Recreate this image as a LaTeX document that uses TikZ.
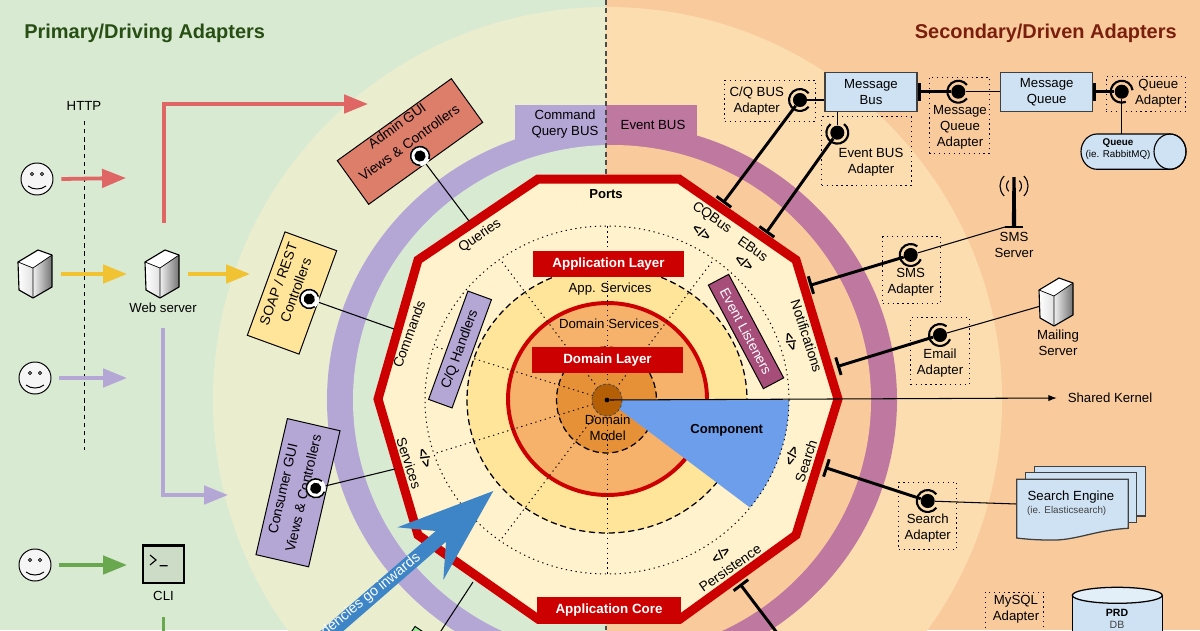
\documentclass[tikz,border=0pt]{standalone}
\usepackage{fontspec}
\setmainfont{Liberation Sans}
\usetikzlibrary{arrows.meta}
\definecolor{drivingback}{HTML}{D9EAD3}
\definecolor{drivenback}{HTML}{F9CB9C}
\definecolor{drivingzone}{HTML}{EAEDCE}
\definecolor{drivenzone}{HTML}{FCDDB0}
\definecolor{drivingtitle}{HTML}{274E13}
\definecolor{driventitle}{HTML}{7A1F0E}
\definecolor{cqring}{HTML}{B4A7D6}
\definecolor{eventring}{HTML}{BF78A0}
\definecolor{coreyellow}{HTML}{FFF2CC}
\definecolor{appyellow}{HTML}{FFE599}
\definecolor{servicesorange}{HTML}{F6B26B}
\definecolor{modelorange}{HTML}{E69138}
\definecolor{kernelbrown}{HTML}{B45F06}
\definecolor{corered}{HTML}{CC0000}
\definecolor{wedgeblue}{HTML}{6D9EEB}
\definecolor{inwardblue}{HTML}{3D85C6}
\definecolor{paleblue}{HTML}{CFE2F3}
\definecolor{adminred}{HTML}{DD7E6B}
\definecolor{listenerpurple}{HTML}{A64D79}
\definecolor{flowred}{HTML}{E06666}
\definecolor{flowyellow}{HTML}{F1C232}
\definecolor{flowgreen}{HTML}{6AA84F}
\tikzset{
    every node/.style={align=center,inner sep=0pt,font=\fontsize{9.4}{11.4}\selectfont,},
    pagetitle/.style={anchor=west,font=\fontsize{14.2}{17}\selectfont\bfseries,},
    boldtext/.style={font=\fontsize{9.3}{11.4}\selectfont\bfseries,},
    tinytext/.style={font=\fontsize{7}{9}\selectfont,},
    slanttext/.style={font=\fontsize{9.8}{12}\selectfont,},
    layerbox/.style={fill=corered,text=white,font=\fontsize{9.5}{11.4}\selectfont\bfseries,minimum height=.66cm,},
    portbox/.style={draw,line width=.7pt,},
    busbox/.style={draw=black!75,line width=.9pt,fill=paleblue,minimum width=2.3cm,minimum height=.98cm,},
    adapterbox/.style={draw,line width=.7pt,dash pattern=on .9pt off 2.6pt,},
    dottedline/.style={line width=.7pt,dash pattern=on .9pt off 2.6pt,},
    dashedcircle/.style={line width=.9pt,dash pattern=on 4.4pt off 2.6pt,},
    flowline/.style={line width=2.7pt,-{Triangle[length=17pt,width=13pt]},},
    thinline/.style={line width=.75pt,},
    busline/.style={line width=2.1pt,{Bar[width=13pt,line width=2.1pt]}-,},
    primarydisc/.style={circle,fill=black,minimum size=8pt,},
    secondarydisc/.style={circle,fill=black,minimum size=10pt,},
    facecircle/.style={circle,draw,line width=.7pt,fill=black!4,minimum size=.8cm,outer sep=6pt,},
    serverbase/.style={minimum width=.85cm,minimum height=1.2cm,outer sep=6.4pt,},
    primaryring/.pic={
        \fill[white] (0,0) circle (7.2pt);
        \draw[line width=1.1pt] (35:6.7pt) arc[start angle=35,end angle=325,radius=6.7pt];
        \fill (0,0) circle (4pt);
    },
    secondaryring/.pic={
        \draw[line width=1.5pt] (38:7.8pt) arc[start angle=38,end angle=322,radius=7.8pt];
    },
    smileface/.pic={
        \draw[line width=.5pt,fill=black!25] (-5,-5) circle (1.1pt);
        \draw[line width=.5pt,fill=black!25] (5,-5) circle (1.1pt);
        \draw[line width=.7pt] (-9,7) .. controls (-4,11) and (4,11) .. (9,7);
    },
    serverimage/.pic={
        \fill[white] (-17,-12) -- (3,-24) -- (17,-19) -- (-2,-6) -- cycle;
        \shade[left color=white,right color=black!12] (-17,-12) -- (-2,-6) -- (-2,24) -- (-16,16) -- cycle;
        \shade[left color=black!6,right color=black!55] (-2,-6) -- (17,-19) -- (17,13) -- (-2,24) -- cycle;
        \draw[line width=.8pt,line join=round] (-17,-12) -- (3,-24) -- (17,-19) -- (17,13) -- (-2,24) -- (-16,16) -- cycle;
        \draw[line width=.5pt] (-17,-12) -- (-2,-6) -- (17,-19) (-2,-6) -- (-2,24);
    },
}

\begin{document}
\begin{tikzpicture}[x=0.025cm,y=-0.025cm]
                \useasboundingbox (0,0) rectangle (1200,630);
                \clip (0,0) rectangle (1200,630);

                % left and right halves of the zones
                \begin{scope}
                    \clip (0,0) rectangle (606,630);
                    \fill[drivingback] (0,0) rectangle (606,630);
                    \fill[drivingzone] (607.5,400) circle [x radius=394.5,y radius=393];
                    \fill[cqring] (612,400) circle [x radius=285,y radius=277];
                    \fill[drivingback] (612,400) circle [x radius=259,y radius=255];
                \end{scope}
                \begin{scope}
                    \clip (606,0) rectangle (1200,630);
                    \fill[drivenback] (606,0) rectangle (1200,630);
                    \fill[drivenzone] (607.5,400) circle [x radius=394.5,y radius=393];
                    \fill[eventring] (612,400) circle [x radius=285,y radius=277];
                    \fill[drivenback] (612,400) circle [x radius=259,y radius=255];
                \end{scope}

                \node[fill=cqring,minimum width=2.275cm,minimum height=.9cm] (cqtab) at (560.5,123) {};
                \node[fill=eventring,minimum width=2.275cm,minimum height=.9cm] (eventtab) at (651.5,123) {};
                \node (cqtabtext) at (565,124) {Command\\Query BUS};
                \node (eventtabtext) at (653,125) {Event BUS};

                \coordinate (dividetop) at (606,0);
                \coordinate (dividecore) at (606,180);
                \coordinate (dividebase) at (606,618);
                \coordinate (divideend) at (606,630);
                \draw[black!70,line width=1pt,dash pattern=on 3.6pt off 2.4pt] (dividetop) -- (dividecore) (dividebase) -- (divideend);

                \node[pagetitle,text=drivingtitle] (primarytitle) at (24,33) {Primary/Driving Adapters};
                \node[pagetitle,text=driventitle,anchor=east] (secondarytitle) at (1177,33) {Secondary/Driven Adapters};

                % users and servers on the left
                \node (httptext) at (84,106) {HTTP};
                \coordinate (httptop) at (84,121);
                \coordinate (httpend) at (84,450);
                \draw[line width=.65pt,dash pattern=on 3pt off 2.8pt] (httptop) -- (httpend);

                \node[facecircle] (adminuser) at (37,179) {};
                \pic at (adminuser) {smileface};
                \node[serverbase] (hostserver) at (35,274) {};
                \pic at (hostserver) {serverimage};
                \node[facecircle] (webuser) at (35,378) {};
                \pic at (webuser) {smileface};
                \node[facecircle] (cliuser) at (35,565) {};
                \pic at (cliuser) {smileface};
                \node[serverbase] (webserver) at (162,274) {};
                \pic at (webserver) {serverimage};
                \node (webtext) at (163,308) {Web server};
                \node[draw,line width=.9pt,fill=black!6!drivingback,minimum width=1.02cm,minimum height=.92cm] (cliwindow) at (163.5,564.5) {};
                \draw[line width=2pt] (cliwindow.north west) -- (cliwindow.north east);
                \draw[line width=.8pt] (150,555) -- (156,560) -- (150,565) (159.5,565.8) -- (167.5,565.8);
                \node (clitext) at (163.5,596) {CLI};

                \coordinate (adminuserhit) at (126,178);
                \coordinate (hostserverhit) at (127,274);
                \coordinate (webuserhit) at (127,378);
                \coordinate (cliuserhit) at (127,565);
                \coordinate (soapin) at (250,274);
                \coordinate (webup) at (164,223);
                \coordinate (adminin) at (368,104);
                \coordinate (webdown) at (163,328);
                \coordinate (consumerin) at (228,495);
                \coordinate (clidown) at (163.5,617);
                \coordinate (clibelow) at (163.5,640);

                \draw[flowline,flowred] (adminuser.east) -- (adminuserhit);
                \draw[flowline,flowred] (webup) |- (adminin);
                \draw[flowline,flowyellow] (hostserver.east) -- (hostserverhit);
                \draw[flowline,flowyellow] (webserver.east) -- (soapin);
                \draw[flowline,cqring] (webuser.east) -- (webuserhit);
                \draw[flowline,cqring] (webdown) |- (consumerin);
                \draw[flowline,flowgreen] (cliuser.east) -- (cliuserhit);
                \draw[line width=2.7pt,flowgreen] (clidown) -- (clibelow);

                % application core
                \draw[fill=coreyellow,draw=corered,line width=6.4pt] (538,179) -- (679,179) -- (796,260) -- (838,399) -- (796,535) -- (680,619) -- (538,619) -- (418,535) -- (378,399) -- (418,260) -- cycle;

                \fill[appyellow] (607,400) circle [x radius=140,y radius=133];
                \draw[corered,fill=servicesorange,line width=2.8pt] (607.5,399) circle [x radius=99.5,y radius=96];
                \fill[modelorange] (606.5,400) circle [x radius=50,y radius=53];

                \foreach \spoke in {-54,-90,-126,-162,162,126,90} {
                    \draw[dottedline] (607,400) -- ++(\spoke:182 and 174);
                }
                \draw[dashedcircle] (607,400) circle [x radius=140,y radius=133];
                \draw[dashedcircle] (606.5,400) circle [x radius=50,y radius=53];
                \fill[wedgeblue] (607,400) -- (789,400) arc[start angle=0,end angle=38.2,x radius=182,y radius=174] -- cycle;
                \draw[dottedline] (607,400) circle [x radius=182,y radius=174];
                \draw[black!70,fill=kernelbrown,dash pattern=on 2pt off 1.5pt,line width=.6pt] (607,400) circle [x radius=15,y radius=16];

                \node[layerbox,minimum width=3.78cm] (applayer) at (608.5,264) {Application Layer};
                \node[layerbox,minimum width=3.77cm] (domainlayer) at (607.5,359.7) {Domain Layer};
                \node[layerbox,minimum width=3.6cm,minimum height=.68cm] (corelayer) at (609,610.5) {Application Core};
                \node (apptext) at (610,289.3) {App. Services};
                \node (servicestext) at (609,324) {Domain Services};
                \node (modeltext) at (607.7,428) {Domain\\Model};
                \node[boldtext] (componenttext) at (726.7,430.7) {Component};
                \node[boldtext] (portstext) at (606,194) {Ports};

                \node[slanttext,rotate=35] (queriestext) at (480,236) {Queries};
                \node[slanttext,rotate=70] (commandstext) at (409,334) {Commands};
                \node[slanttext,rotate=-72] (servicesporttext) at (409,463) {Services};
                \node[slanttext,rotate=-35] (cqbustext) at (711.7,218) {CQBus};
                \node[slanttext,rotate=-35] (ebustext) at (753,249) {EBus};
                \node[slanttext,rotate=-72] (notifytext) at (806.7,336) {Notifications};
                \node[slanttext,rotate=72] (searchtext) at (806,461) {Search};
                \node[slanttext,rotate=35] (persisttext) at (730,568) {Persistence};
                \node[rotate=-35,boldtext] (cqbusmark) at (701.7,232.3) {</>};
                \node[rotate=-35,boldtext] (ebusmark) at (744.3,262.7) {</>};
                \node[rotate=-72,boldtext] (notifymark) at (791,341.7) {</>};
                \node[rotate=72,boldtext] (searchmark) at (791.7,455.7) {</>};
                \node[rotate=35,boldtext] (persistmark) at (720.7,555) {</>};
                \node[rotate=-72,boldtext] (servicesmark) at (425,458) {</>};

                \node[portbox,slanttext,fill=listenerpurple,text=white,rotate=-62,minimum width=2.93cm,minimum height=.575cm] (listeners) at (746,331.5) {Event Listeners};
                \node[portbox,slanttext,fill=cqring,rotate=70,minimum width=2.88cm,minimum height=.625cm] (handlers) at (460,349.5) {C/Q Handlers};

                \node (centerdot) at (607,400) [circle,fill=black,minimum size=3.4pt] {};
                \node (kerneltext) at (1110,398) [outer sep=7.8pt] {Shared Kernel};
                \draw[thinline,-{Latex[length=6pt,width=4.5pt]}] (centerdot) -- (kerneltext.west);

                % driving adapters
                \node[portbox,fill=adminred,rotate=35.7,minimum width=3.51cm,minimum height=1.345cm] (adminbox) at (410,141.5) {};
                \node[slanttext,rotate=35.7] (admintext) at (403,134) {Admin GUI\\[3pt]Views \& Controllers};
                \node[portbox,fill=appyellow,rotate=70,minimum width=2.75cm,minimum height=1.375cm] (soapbox) at (292,293) {};
                \node[slanttext,rotate=70] (soaptext) at (287,287) {SOAP / REST\\[1pt]Controllers};
                \node[portbox,fill=cqring,rotate=77,minimum width=3.49cm,minimum height=1.35cm] (consumerbox) at (298,492.7) {};
                \node[slanttext,rotate=77] (consumertext) at (293,491) {Consumer GUI\\[3pt]Views \& Controllers};
                \node[portbox,fill=green!30!drivingback,rotate=-34,minimum width=3.5cm,minimum height=1.35cm] (clibox) at (458,688) {};

                \coordinate (queriesedge) at (469,221);
                \coordinate (commandsedge) at (394,329);
                \coordinate (servicesedge) at (395,469);
                \coordinate (cliedge) at (473,582);
                \coordinate (cliport) at (435,640);
                \node[primarydisc] (adminport) at (420,156) {};
                \node[primarydisc] (soapport) at (309.3,299) {};
                \node[primarydisc] (consumerport) at (315.7,488.3) {};
                \draw[thinline] (adminport) -- (queriesedge);
                \draw[thinline] (soapport) -- (commandsedge);
                \draw[thinline] (consumerport) -- (servicesedge);
                \draw[thinline] (cliedge) -- (cliport);
                \pic[rotate=-53] at (adminport) {primaryring};
                \pic[rotate=-20] at (soapport) {primaryring};
                \pic[rotate=14] at (consumerport) {primaryring};

                \fill[inwardblue] (493.3,491) -- (397.3,527.3) -- (435.7,531) -- (310,640) -- (333,640) -- (446,541.7) -- (443.3,580) -- cycle;
                \node[rotate=39,anchor=east,text=white,font=\fontsize{10.2}{12}\selectfont] (inwardtext) at (419,556) {Dependencies go inwards};

                % driven adapters
                \node[adapterbox,minimum width=2.27cm,minimum height=1.025cm] (cqadapter) at (770.3,100.5) {};
                \node[adapterbox,minimum width=2.25cm,minimum height=1.7cm] (eventadapter) at (866.7,151) {};
                \node[adapterbox,minimum width=1.5cm,minimum height=1.9cm] (mqadapter) at (959.3,115.3) {};
                \node[adapterbox,minimum width=1.99cm,minimum height=.875cm] (queueadapter) at (1145.8,94.2) {};
                \node[adapterbox,minimum width=1.45cm,minimum height=1.67cm] (smsadapter) at (911.7,270) {};
                \node[adapterbox,minimum width=1.465cm,minimum height=1.675cm] (emailadapter) at (940,350.8) {};
                \node[adapterbox,minimum width=1.45cm,minimum height=1.675cm] (searchadapter) at (927.7,515.8) {};
                \node[adapterbox,minimum width=1.45cm,minimum height=1.4cm] (mysqladapter) at (1014.3,620) {};

                \node (cqadaptertext) at (756.7,100.7) {C/Q BUS\\Adapter};
                \node (eventadaptertext) at (871,162.7) {Event BUS\\Adapter};
                \node (mqadaptertext) at (960,127.7) {Message\\Queue\\Adapter};
                \node (queueadaptertext) at (1158.3,93.3) {Queue\\Adapter};
                \node (smsadaptertext) at (910.7,282.7) {SMS\\Adapter};
                \node (emailadaptertext) at (940,363) {Email\\Adapter};
                \node (searchadaptertext) at (927.7,528.3) {Search\\Adapter};
                \node (mysqladaptertext) at (1016,609.3) {MySQL\\Adapter};

                \node[busbox] (messagebus) at (871,92) {Message\\Bus};
                \node[busbox] (messagequeue) at (1046.7,92) {Message\\Queue};

                \coordinate (cqbar) at (723,203);
                \coordinate (ebar) at (766,233);
                \coordinate (smsbar) at (809.5,285.5);
                \coordinate (emailbar) at (837,366.6);
                \coordinate (searchbar) at (825,467.5);
                \coordinate (persistbar) at (740,584);
                \coordinate (mysqlport) at (790,650);
                \coordinate (smsbase) at (1005,227);
                \coordinate (mailserverin) at (1039,306.5);
                \coordinate (enginein) at (1016.7,504);
                \coordinate (queuetop) at (1121.7,134);

                \node[secondarydisc] (cqport) at (800,100) {};
                \node[secondarydisc] (eventport) at (837.3,132.7) {};
                \node[secondarydisc] (mqport) at (958.3,91.7) {};
                \node[secondarydisc] (queueport) at (1121.7,91.7) {};
                \node[secondarydisc] (smsport) at (910.7,255) {};
                \node[secondarydisc] (emailport) at (940,335) {};
                \node[secondarydisc] (searchport) at (927.7,501) {};
                \pic at (cqport) {secondaryring};
                \pic[rotate=90] at (eventport) {secondaryring};
                \pic at (mqport) {secondaryring};
                \pic[rotate=-30] at (queueport) {secondaryring};
                \pic[rotate=15] at (smsport) {secondaryring};
                \pic[rotate=15] at (emailport) {secondaryring};
                \pic at (searchport) {secondaryring};

                \draw[busline] (cqbar) -- (cqport);
                \draw[busline] (ebar) -- (eventport);
                \draw[busline] (smsbar) -- (smsport);
                \draw[busline] (emailbar) -- (emailport);
                \draw[busline] (searchbar) -- (searchport);
                \draw[busline] (persistbar) -- (mysqlport);
                \draw[busline] (messagebus.east |- mqport) -- (mqport);
                \draw[busline] (messagequeue.east |- queueport) -- (queueport);
                \draw[thinline] (cqport) -- (messagebus.west |- cqport);
                \draw[thinline] (eventport) -- (messagebus.south -| eventport);
                \draw[thinline] (mqport) -- (messagequeue.west |- mqport);
                \draw[thinline] (queueport) -- (queuetop);
                \draw[thinline] (smsport) -- (smsbase);
                \draw[thinline] (emailport) -- (mailserverin);
                \draw[thinline] (searchport) -- (enginein);

                % queue
                \draw[fill=paleblue,line width=.8pt] (1097,134) -- (1170,134) arc[start angle=-90,end angle=90,x radius=16,y radius=17.65] -- (1097,169.3) arc[start angle=90,end angle=270,x radius=16,y radius=17.65] -- cycle;
                \draw[line width=.8pt] (1170,151.65) circle [x radius=16,y radius=17.65];
                \node[tinytext,font=\fontsize{7}{9}\selectfont\bfseries] (queuetitle) at (1118,143) {Queue};
                \node[tinytext] (queuename) at (1118,155) {(ie. RabbitMQ)};

                % sms antenna
                \fill (1012.4,177) -- (1015.6,177) -- (1016.2,227) -- (1011.8,227) -- cycle;
                \draw[line width=1.5pt] (smsbase) -- (1023,227);
                \draw[line width=.8pt] (1014,186) ++(135:7.5) arc[start angle=135,end angle=225,radius=7.5];
                \draw[line width=.8pt] (1014,186) ++(135:14) arc[start angle=135,end angle=225,radius=14];
                \draw[line width=.8pt] (1014,186) ++(-45:7.5) arc[start angle=-45,end angle=45,radius=7.5];
                \draw[line width=.8pt] (1014,186) ++(-45:14) arc[start angle=-45,end angle=45,radius=14];
                \node (smstext) at (1014,245) {SMS\\Server};

                \node[serverbase] (mailserver) at (1056,302) {};
                \pic at (mailserver) {serverimage};
                \node (mailtext) at (1058,343) {Mailing\\Server};

                % search engine sheets
                \node[draw=black!75,line width=.9pt,fill=paleblue,minimum width=2.785cm,minimum height=1.23cm] (enginesheetback) at (1090,491.3) {};
                \node[draw=black!75,line width=.9pt,fill=paleblue,minimum width=2.775cm,minimum height=1.24cm] (enginesheetmid) at (1081.2,497.5) {};
                \draw[draw=black!75,line width=.9pt,fill=paleblue] (1016.7,479.3) -- (1128.3,479.3) -- (1128.3,528.3) .. controls (1095,530) and (1075,541) .. (1050,540) .. controls (1035,540) and (1025,539) .. (1016.7,538) -- cycle;
                \node (enginetext) at (1071,496.7) {Search Engine};
                \node[tinytext,text=black!75] (enginename) at (1066.7,510.7) {(ie. Elasticsearch)};

                % database
                \draw[line width=.9pt,fill=paleblue] (1072.3,595.3) -- (1072.3,660) -- (1162.3,660) -- (1162.3,595.3);
                \draw[line width=.9pt,fill=paleblue!60!white] (1117.3,595.3) circle [x radius=45,y radius=8];
                \node[tinytext,font=\fontsize{7.5}{9}\selectfont\bfseries] (dbname) at (1117,612.5) {PRD};
                \node[tinytext,font=\fontsize{7.5}{9}\selectfont,text=black!75] (dbtype) at (1117,625) {DB};
            \end{tikzpicture}
\end{document}
